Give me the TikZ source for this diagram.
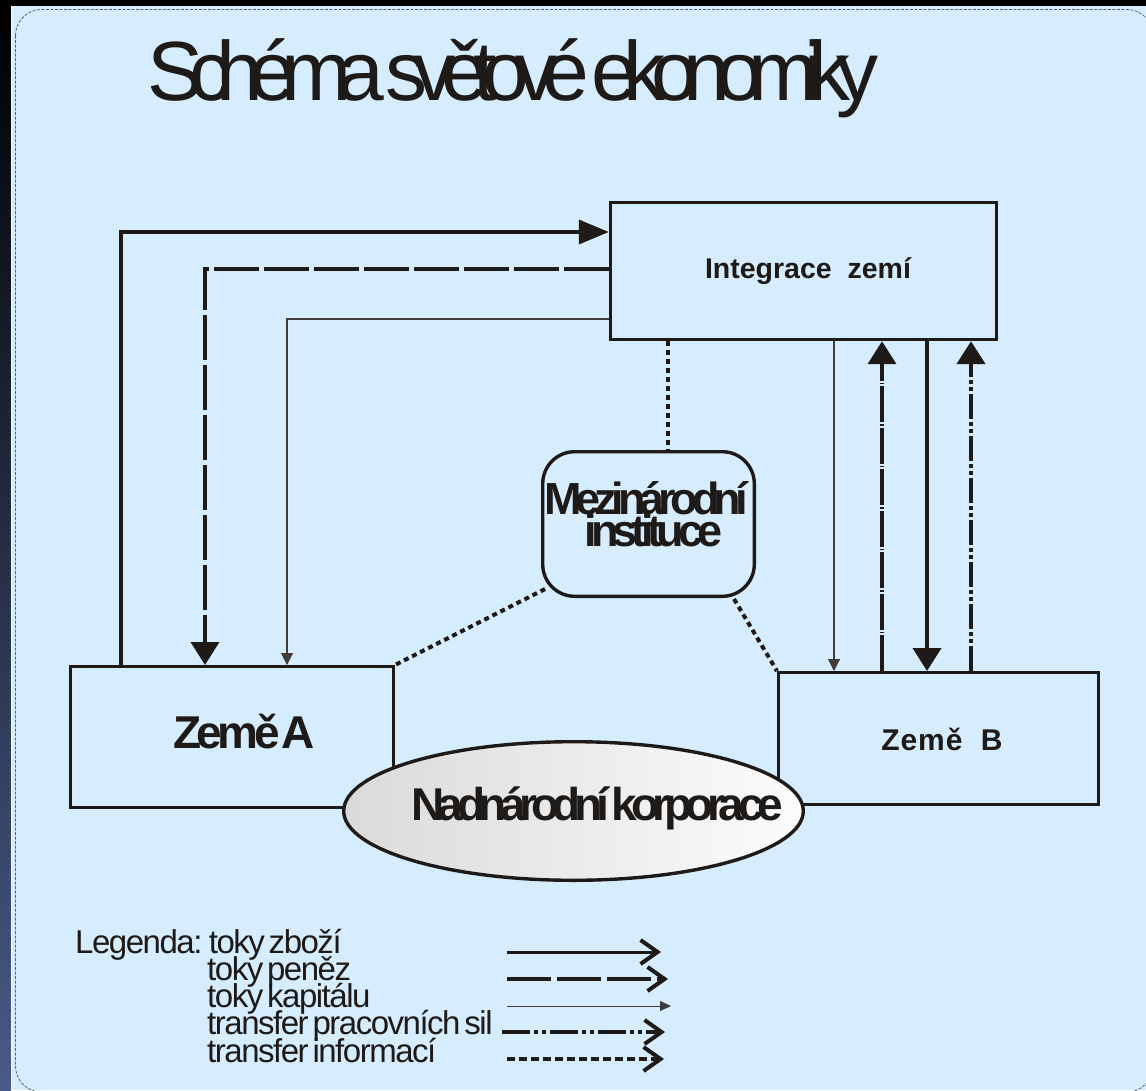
\documentclass[tikz,border=0pt]{standalone}
\usepackage{fontspec}
\setmainfont{Liberation Sans}
\newfontfamily\titlefont[LetterSpace=-17,WordSpace=0.2]{Liberation Sans}
\newfontfamily\bcond[LetterSpace=-13,WordSpace=0.5]{Liberation Sans}
\newfontfamily\kcond[LetterSpace=-14,WordSpace=0.5]{Liberation Sans}
\newfontfamily\zafont[LetterSpace=-10,WordSpace=0.2]{Liberation Sans}
\newfontfamily\legfont[LetterSpace=-4.5,WordSpace=0.5]{Liberation Sans}
\newfontfamily\zbfont[LetterSpace=3]{Liberation Sans}
\usetikzlibrary{arrows.meta,shapes.geometric}
\definecolor{ink}{HTML}{1E1A17}
\definecolor{bgblue}{HTML}{D6ECFF}
\definecolor{leftbot}{HTML}{485B88}
\definecolor{bordergray}{HTML}{5A5F6A}
\definecolor{ellL}{HTML}{DADADA}
\definecolor{ellR}{HTML}{FCFCFC}
\tikzset{
  box/.style={draw=ink, line width=3.4pt, inner sep=0pt},
  txt/.style={inner sep=0pt, anchor=base, text=ink},
  goods/.style={draw=ink, line width=3.6pt},
  money/.style={draw=ink, line width=3.6pt, dash pattern=on 45pt off 5pt},
  capital/.style={draw=ink!85, line width=1.1pt},
  labour/.style={draw=ink, line width=3.6pt, dash pattern=on 36pt off 2pt on 1.5pt off 2pt},
  labourB/.style={draw=ink, line width=4.6pt, dash pattern=on 25pt off 3pt on 4pt off 3pt on 4pt off 3pt},
  info/.style={draw=ink, line width=4pt, dash pattern=on 5pt off 4pt},
  bighead/.style={-{Triangle[length=23pt,width=28pt]}},
  smallhead/.style={-{Triangle[length=12pt,width=12pt]}},
  barb/.style={-{Straight Barb[length=17pt,width=24pt,line width=4pt]}},
  legtxt/.style={inner sep=0pt, anchor=base west, text=ink, font=\legfont\fontsize{33}{33}\selectfont},
}
\begin{document}
\begin{tikzpicture}[x=1pt,y=-1pt]
\useasboundingbox (0,0) rectangle (1146,1090);
% background
\fill[bgblue] (0,0) rectangle (1146,1090);
\shade[top color=black, bottom color=leftbot] (0,0) rectangle (11,1090);
\fill[black] (0,0) rectangle (1146,6);
\draw[white, line width=1pt] (11.5,6) -- (11.5,1090);
\draw[bordergray, line width=0.8pt, dash pattern=on 3pt off 1.5pt, rounded corners=26pt] (15.5,9.5) rectangle (1153,1092);

% title
\node[txt, anchor=base west] (title) at (147,100) {\titlefont\fontsize{84}{84}\selectfont Schéma světové ekonomiky};

% boxes
\node[box, minimum width=386pt, minimum height=137pt] (intg) at (803.5,271) {};
\node[box, minimum width=322.6pt, minimum height=140.6pt] (zemeA) at (232,737) {};
\node[box, minimum width=319.6pt, minimum height=131.6pt] (zemeB) at (938.5,738.5) {};
\node[box, rounded corners=32pt, minimum width=211.6pt, minimum height=144.6pt] (inst) at (648.5,524) {};

% bend coordinates
\coordinate (c1) at (121,232);
\coordinate (c2) at (205,269);
\coordinate (c3) at (287,319);
\coordinate (c4) at (834,500);
\coordinate (c5) at (882,500);
\coordinate (c6) at (927,500);
\coordinate (c7) at (971,500);
\coordinate (c8) at (668,400);
\coordinate (d1) at (545,589);
\coordinate (d2) at (734,599);

% left flows
\draw[goods, -{Triangle[length=30pt,width=24pt]}] (c1 |- zemeA.north) -- (c1) -- (c1 -| intg.west);
\draw[money, bighead] (c2 -| intg.west) -- (c2) -- (c2 |- zemeA.north);
\draw[capital, smallhead] (c3 -| intg.west) -- (c3) -- (c3 |- zemeA.north);

% right flows
\draw[capital, smallhead] (c4 |- intg.south) -- (c4 |- zemeB.north);
\draw[labour, bighead] (c5 |- zemeB.north) -- (c5 |- intg.south);
\draw[goods, line width=4pt, bighead] (c6 |- intg.south) -- (c6 |- zemeB.north);
\draw[labourB, bighead] (c7 |- zemeB.north) -- (c7 |- intg.south);

% information links
\draw[info] (c8 |- intg.south) -- (c8 |- inst.north);
\draw[info] (d1) -- (zemeA.north east);
\draw[info] (d2) -- (zemeB.north west);

% ellipse
\node[ellipse, draw=ink, line width=3.4pt, left color=ellL, right color=ellR, inner sep=0pt,
      minimum width=459.6pt, minimum height=138.6pt] (korp) at (573.5,811) {};

% box texts
\node[txt] (intgT) at (808,278) {\bfseries\fontsize{28.5}{30}\selectfont Integrace\ \ zemí};
\node[txt] (zbT) at (942,750) {\zbfont\bfseries\fontsize{30}{30}\selectfont Země\ \ B};
\node[txt] (zaT) at (244,748) {\zafont\bfseries\fontsize{46}{46}\selectfont Země A};
\node[txt] (instT1) at (646,514) {\bcond\bfseries\fontsize{45}{45}\selectfont Mezinárodní};
\node[txt] (instT2) at (653.5,546) {\bcond\bfseries\fontsize{45}{45}\selectfont instituce};
\node[txt] (korpT) at (597,820) {\kcond\bfseries\fontsize{46}{46}\selectfont Nadnárodní korporace};

% legend
\node[legtxt] (leg0) at (75,953) {Legenda: toky zboží};
\node[legtxt] (leg1) at (207,980) {toky peněz};
\node[legtxt] (leg2) at (207,1007) {toky kapitálu};
\node[legtxt] (leg3) at (207,1034) {transfer pracovních sil};
\node[legtxt] (leg4) at (207,1062) {transfer informací};

\coordinate (l1a) at (507,952);  \coordinate (l1b) at (661,952);
\coordinate (l2a) at (507,979);  \coordinate (l2b) at (668,979);
\coordinate (l3a) at (507,1006); \coordinate (l3b) at (671,1006);
\coordinate (l4a) at (502,1032); \coordinate (l4b) at (665,1032);
\coordinate (l5a) at (507,1059); \coordinate (l5b) at (664,1059);
\draw[goods, line width=3pt, barb] (l1a) -- (l1b);
\draw[money, line width=4pt, dash pattern=on 44pt off 6pt, barb] (l2a) -- (l2b);
\draw[capital, line width=1pt, -{Triangle[length=11pt,width=10pt]}] (l3a) -- (l3b);
\draw[draw=ink, line width=4pt, dash pattern=on 28pt off 4pt on 4pt off 4pt on 4pt off 4pt, barb] (l4a) -- (l4b);
\draw[draw=ink, line width=3.5pt, dash pattern=on 8pt off 4pt, barb] (l5a) -- (l5b);
\end{tikzpicture}
\end{document}
